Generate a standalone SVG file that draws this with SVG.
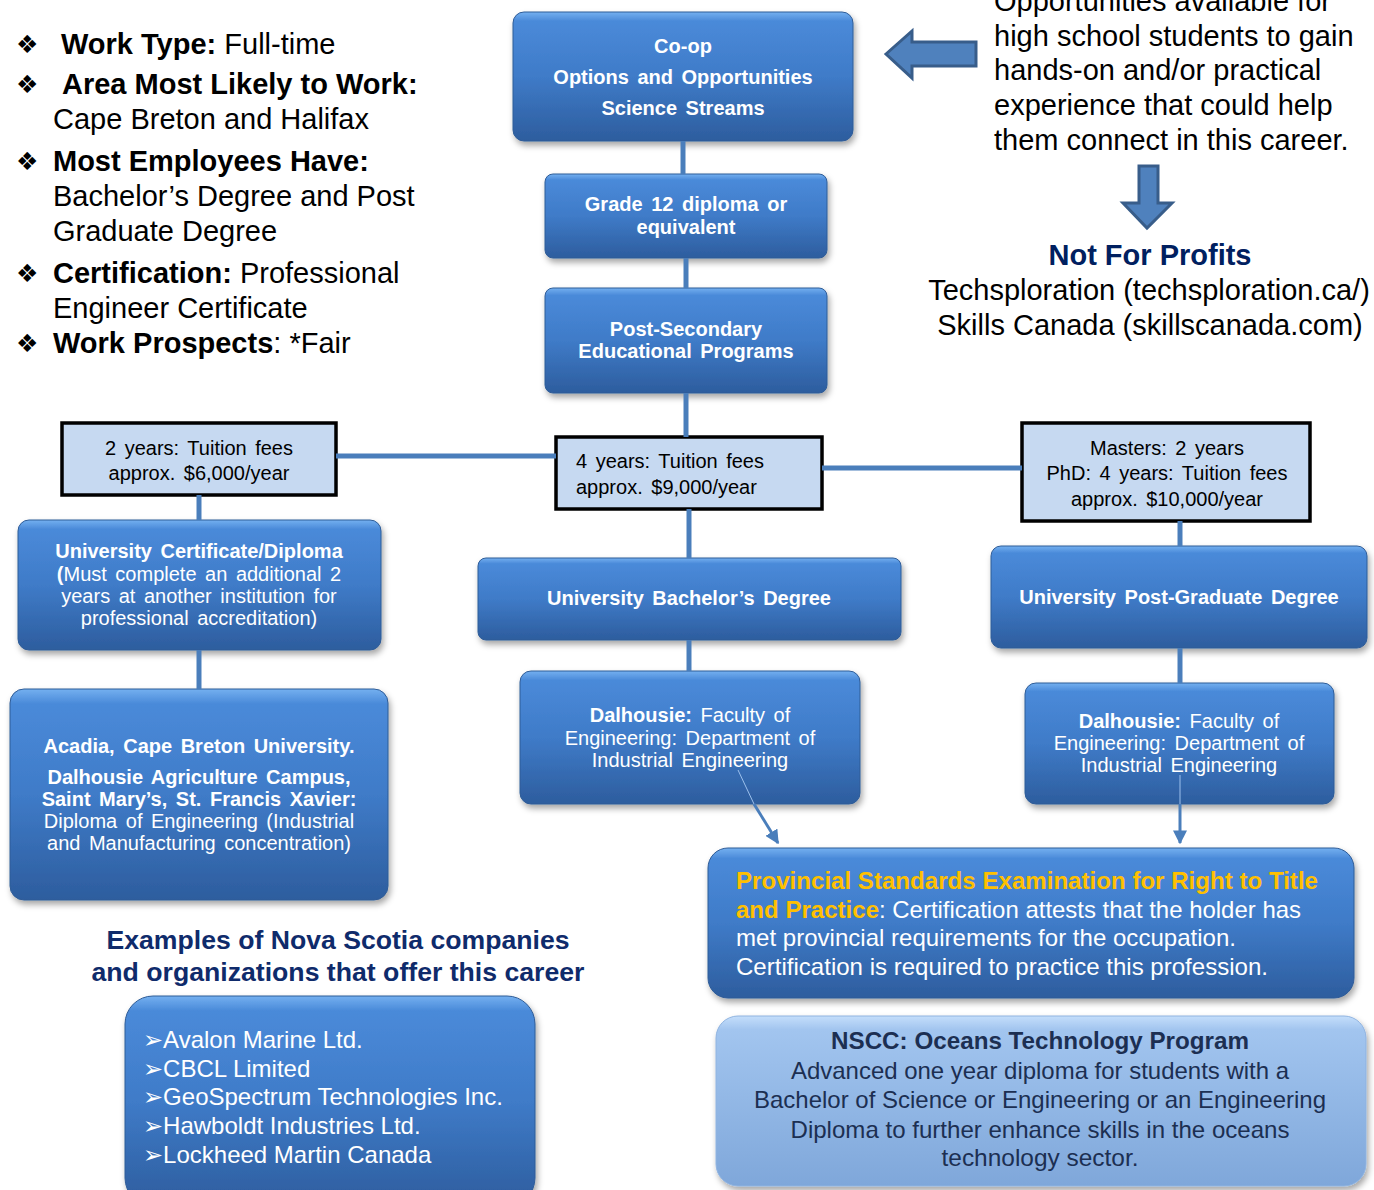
<svg xmlns="http://www.w3.org/2000/svg" width="1374" height="1190" viewBox="0 0 1374 1190">
<defs>
<linearGradient id="gb" x1="0" y1="0" x2="0" y2="1">
<stop offset="0" stop-color="#74b0f0"/>
<stop offset="0.07" stop-color="#4a8ad9"/>
<stop offset="0.5" stop-color="#3f7bc8"/>
<stop offset="1" stop-color="#2d5d9e"/>
</linearGradient>
<linearGradient id="gl" x1="0" y1="0" x2="0" y2="1">
<stop offset="0" stop-color="#c4defb"/>
<stop offset="0.08" stop-color="#a2c5ef"/>
<stop offset="1" stop-color="#7fa7da"/>
</linearGradient>
<filter id="sh" x="-10%" y="-10%" width="120%" height="130%">
<feDropShadow dx="2" dy="4" stdDeviation="3" flood-color="#000" flood-opacity="0.35"/>
</filter>
<marker id="ah" viewBox="0 0 10 10" refX="9" refY="5" markerWidth="14" markerHeight="14" markerUnits="userSpaceOnUse" orient="auto">
<path d="M0,0 L10,5 L0,10 z" fill="#4a7ebb"/>
</marker>
<style>
.bx{fill:url(#gb);stroke:#2f5c97;stroke-width:1;filter:url(#sh)}
.lb{fill:url(#gl);stroke:#8fb3e0;stroke-width:1;filter:url(#sh)}
.tb{fill:#c6d9f1;stroke:#000;stroke-width:3.5}
.w{font-family:"Liberation Sans",Arial,sans-serif;font-size:20px;fill:#fff;text-anchor:middle;word-spacing:3px}
.wb{font-weight:bold}
.k{font-family:"Liberation Sans",Arial,sans-serif;font-size:20px;fill:#000;word-spacing:3px}
.big{font-family:"Liberation Sans",Arial,sans-serif;font-size:29px;fill:#000}
.npf{fill:#002060;font-weight:bold}
.bul{font-family:"DejaVu Sans",sans-serif;font-size:25px;fill:#000}
.cn{stroke:#4a7ebb;stroke-width:5;fill:none}
.ba{fill:#4f81bd;stroke:#385d8a;stroke-width:3;stroke-linejoin:miter}
.nav{font-family:"Liberation Sans",Arial,sans-serif;font-weight:bold;fill:#0f2b6b}
</style>
</defs>
<rect width="1374" height="1190" fill="#fff"/>

<g id="info-left">
<text class="bul" x="16" y="53">❖</text>
<text class="big" x="61" y="54"><tspan font-weight="bold">Work Type:</tspan> Full-time</text>
<text class="bul" x="16" y="93">❖</text>
<text class="big" x="62" y="94" font-weight="bold">Area Most Likely to Work:</text>
<text class="big" x="53" y="129">Cape Breton and Halifax</text>
<text class="bul" x="16" y="170">❖</text>
<text class="big" x="53" y="171" font-weight="bold">Most Employees Have:</text>
<text class="big" x="53" y="206">Bachelor’s Degree and Post</text>
<text class="big" x="53" y="241">Graduate Degree</text>
<text class="bul" x="16" y="282">❖</text>
<text class="big" x="53" y="283"><tspan font-weight="bold">Certification:</tspan> Professional</text>
<text class="big" x="53" y="318">Engineer Certificate</text>
<text class="bul" x="16" y="352">❖</text>
<text class="big" x="53" y="353"><tspan font-weight="bold">Work Prospects</tspan>: *Fair</text>
</g>

<g id="info-right">
<text class="big" x="994" y="11">Opportunities available for</text>
<text class="big" x="994" y="46">high school students to gain</text>
<text class="big" x="994" y="80">hands-on and/or practical</text>
<text class="big" x="994" y="115">experience that could help</text>
<text class="big" x="994" y="150">them connect in this career.</text>
<text class="big npf" x="1150" y="265" text-anchor="middle">Not For Profits</text>
<text class="big" x="1149" y="300" text-anchor="middle">Techsploration (techsploration.ca/)</text>
<text class="big" x="1150" y="335" text-anchor="middle">Skills Canada (skillscanada.com)</text>
</g>

<g id="coop">
<rect class="bx" x="513" y="12" width="340" height="129" rx="11"/>
<text class="w wb" x="683" y="53">Co-op</text>
<text class="w wb" x="683" y="84">Options and Opportunities</text>
<text class="w wb" x="683" y="115">Science Streams</text>
</g>
<g id="grade12">
<rect class="bx" x="545" y="174" width="282" height="84" rx="8"/>
<text class="w wb" x="686" y="211">Grade 12 diploma or</text>
<text class="w wb" x="686" y="234">equivalent</text>
</g>
<g id="postsec">
<rect class="bx" x="545" y="288" width="282" height="105" rx="8"/>
<text class="w wb" x="686" y="336">Post-Secondary</text>
<text class="w wb" x="686" y="358">Educational Programs</text>
</g>
<g id="fee2">
<rect class="tb" x="62" y="423" width="274" height="72"/>
<text class="k" x="199" y="455" text-anchor="middle">2 years:  Tuition fees</text>
<text class="k" x="199" y="480" text-anchor="middle">approx.  $6,000/year</text>
</g>
<g id="fee4">
<rect class="tb" x="556" y="437" width="266" height="72"/>
<text class="k" x="576" y="468">4 years:  Tuition fees</text>
<text class="k" x="576" y="494">approx.  $9,000/year</text>
</g>
<g id="feepg">
<rect class="tb" x="1022" y="423" width="288" height="98"/>
<text class="k" x="1167" y="455" text-anchor="middle">Masters:  2 years</text>
<text class="k" x="1167" y="480" text-anchor="middle">PhD: 4 years:  Tuition fees</text>
<text class="k" x="1167" y="506" text-anchor="middle">approx.  $10,000/year</text>
</g>
<g id="unicert">
<rect class="bx" x="18" y="520" width="363" height="130" rx="11"/>
<text class="w wb" x="199" y="558">University Certificate/Diploma</text>
<text class="w" x="199" y="581"><tspan font-weight="bold">(</tspan>Must complete an additional  2</text>
<text class="w" x="199" y="603">years at another institution for</text>
<text class="w" x="199" y="625">professional accreditation)</text>
</g>
<g id="acadia">
<rect class="bx" x="10" y="689" width="378" height="211" rx="14"/>
<text class="w wb" x="199" y="753">Acadia, Cape Breton University.</text>
<text class="w wb" x="199" y="784">Dalhousie Agriculture Campus,</text>
<text class="w wb" x="199" y="806">Saint Mary’s, St. Francis Xavier:</text>
<text class="w" x="199" y="828">Diploma of Engineering (Industrial</text>
<text class="w" x="199" y="850">and Manufacturing concentration)</text>
</g>
<g id="bachelor">
<rect class="bx" x="478" y="558" width="423" height="82" rx="8"/>
<text class="w wb" x="689" y="605">University Bachelor’s Degree</text>
</g>
<g id="dal-mid">
<rect class="bx" x="520" y="671" width="340" height="133" rx="11"/>
<text class="w" x="690" y="722"><tspan font-weight="bold">Dalhousie:</tspan> Faculty of</text>
<text class="w" x="690" y="745">Engineering: Department of</text>
<text class="w" x="690" y="767">Industrial Engineering</text>
</g>
<g id="postgrad">
<rect class="bx" x="991" y="546" width="376" height="102" rx="10"/>
<text class="w wb" x="1179" y="604">University Post-Graduate Degree</text>
</g>
<g id="dal-right">
<rect class="bx" x="1025" y="683" width="309" height="121" rx="11"/>
<text class="w" x="1179" y="728"><tspan font-weight="bold">Dalhousie:</tspan> Faculty of</text>
<text class="w" x="1179" y="750">Engineering: Department of</text>
<text class="w" x="1179" y="772">Industrial Engineering</text>
</g>
<g id="provincial">
<rect class="bx" x="708" y="848" width="646" height="150" rx="20"/>
<g font-family="'Liberation Sans',Arial,sans-serif" font-size="24" fill="#fff">
<text x="736" y="889" font-weight="bold" fill="#ffc000" textLength="582" lengthAdjust="spacingAndGlyphs">Provincial Standards Examination for Right to Title</text>
<text x="736" y="918" font-weight="bold" fill="#ffc000" textLength="143" lengthAdjust="spacingAndGlyphs">and Practice</text>
<text x="879" y="918" textLength="422" lengthAdjust="spacingAndGlyphs">: Certification attests that the holder has</text>
<text x="736" y="946" textLength="500" lengthAdjust="spacingAndGlyphs">met provincial requirements for the occupation.</text>
<text x="736" y="975" textLength="532" lengthAdjust="spacingAndGlyphs">Certification is required to practice this profession.</text>
</g>
</g>
<g id="nscc">
<rect class="lb" x="716" y="1016" width="650" height="170" rx="22"/>
<g font-family="'Liberation Sans',Arial,sans-serif" font-size="24" fill="#1c2f52" text-anchor="middle">
<text x="1040" y="1049" font-weight="bold" textLength="418" lengthAdjust="spacingAndGlyphs">NSCC: Oceans Technology Program</text>
<text x="1040" y="1079" textLength="498" lengthAdjust="spacingAndGlyphs">Advanced one year diploma for students with a</text>
<text x="1040" y="1108" textLength="572" lengthAdjust="spacingAndGlyphs">Bachelor of Science or Engineering or an Engineering</text>
<text x="1040" y="1138" textLength="499" lengthAdjust="spacingAndGlyphs">Diploma to further enhance skills in the oceans</text>
<text x="1040" y="1166" textLength="197" lengthAdjust="spacingAndGlyphs">technology sector.</text>
</g>
</g>
<g id="examples-title">
<text class="nav" x="338" y="949" font-size="25" text-anchor="middle" textLength="463" lengthAdjust="spacingAndGlyphs">Examples of Nova Scotia companies</text>
<text class="nav" x="338" y="981" font-size="25" text-anchor="middle" textLength="493" lengthAdjust="spacingAndGlyphs">and organizations that offer this career</text>
</g>
<g id="companies">
<rect class="bx" x="125" y="996" width="410" height="210" rx="28"/>
<g font-family="'Liberation Sans','DejaVu Sans',Arial,sans-serif" font-size="24" fill="#fff">
<text x="143" y="1048">➢Avalon Marine Ltd.</text>
<text x="143" y="1077">➢CBCL Limited</text>
<text x="143" y="1105">➢GeoSpectrum Technologies Inc.</text>
<text x="143" y="1134">➢Hawboldt Industries Ltd.</text>
<text x="143" y="1163">➢Lockheed Martin Canada</text>
</g>
</g>

<g id="connectors">
<line class="cn" x1="683" y1="141" x2="683" y2="174"/>
<line class="cn" x1="686" y1="258" x2="686" y2="288"/>
<line class="cn" x1="686" y1="393" x2="686" y2="437"/>
<line class="cn" x1="336" y1="456" x2="556" y2="456"/>
<line class="cn" x1="822" y1="468" x2="1022" y2="468"/>
<line class="cn" x1="199" y1="495" x2="199" y2="520"/>
<line class="cn" x1="689" y1="509" x2="689" y2="558"/>
<line class="cn" x1="1180" y1="521" x2="1180" y2="546"/>
<line class="cn" x1="199" y1="650" x2="199" y2="689"/>
<line class="cn" x1="689" y1="640" x2="689" y2="671"/>
<line class="cn" x1="1180" y1="648" x2="1180" y2="683"/>
<line x1="738" y1="770" x2="754" y2="804" stroke="#9cc0ec" stroke-width="1"/>
<line x1="754" y1="804" x2="778" y2="843" stroke="#4a7ebb" stroke-width="3" marker-end="url(#ah)"/>
<line x1="1180" y1="775" x2="1180" y2="804" stroke="#9cc0ec" stroke-width="1"/>
<line x1="1180" y1="804" x2="1180" y2="843" stroke="#4a7ebb" stroke-width="3" marker-end="url(#ah)"/>
<polygon class="ba" points="886,54 912,31 912,42 976,42 976,66 912,66 912,78"/>
<polygon class="ba" points="1139,166 1158,166 1158,203 1172,203 1147,228 1123,203 1139,203"/>
</g>
</svg>
